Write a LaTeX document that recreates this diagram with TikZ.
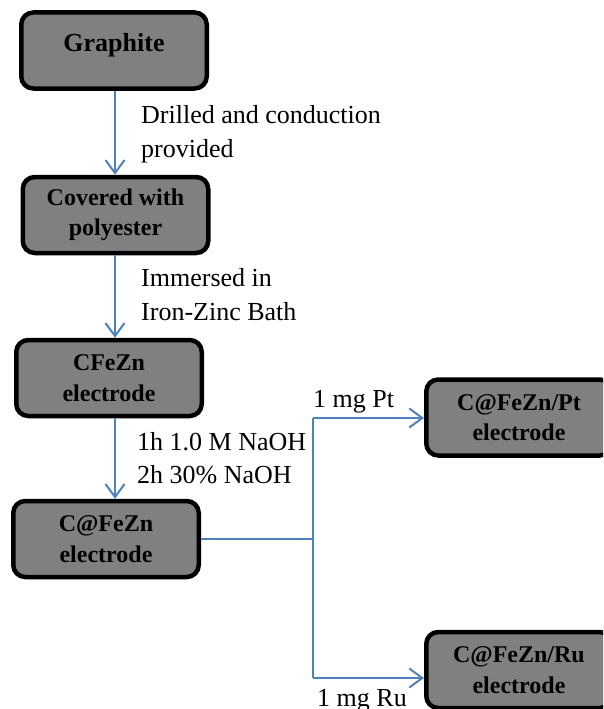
\documentclass[tikz,border=0pt]{standalone}
\usepackage{fontspec}
\setmainfont{LiberationSerif}[Extension=.ttf, UprightFont=*-Regular, BoldFont=*-Bold, ItalicFont=*-Italic, BoldItalicFont=*-BoldItalic]
\usetikzlibrary{arrows.meta}
\definecolor{boxgray}{RGB}{128,128,128}
\definecolor{flowblue}{RGB}{79,129,189}
\tikzset{
  stagebox/.style={draw=black, line width=4.5pt, fill=boxgray, rounded corners=12pt,
    minimum width=185.5pt, minimum height=76pt, inner sep=0pt, align=center,
    font=\rmfamily\bfseries\fontsize{24}{30.5}\selectfont},
  flow/.style={draw=flowblue, line width=2pt},
  flowarrow/.style={flow, -{Straight Barb[length=13pt,width=19pt,line width=2pt]}},
  steplabel/.style={anchor=base west, align=left, inner sep=0pt,
    font=\rmfamily\fontsize{26}{34}\selectfont}
}
\begin{document}
\begin{tikzpicture}[x=1pt, y=-1pt]
\path[use as bounding box, clip] (0,0) rectangle (603,709);

% process stages
\node[stagebox, font=\rmfamily\bfseries\fontsize{26}{30}\selectfont,
      text height=8pt, text depth=6pt] (graphite) at (114,50.5) {Graphite};
\node[stagebox] (covered) at (115.5,215) {Covered with\\polyester};
\node[stagebox] (cfezn) at (109,378) {CFeZn\\electrode};
\node[stagebox] (cafezn) at (106,539) {C@FeZn\\electrode};
\node[stagebox] (ptel) at (519,417.5) {C@FeZn/Pt\\electrode};
\node[stagebox] (ruel) at (519,670) {C@FeZn/Ru\\electrode};

% vertical axis of the main chain and branch points
\coordinate (axis) at (115,0);
\coordinate (jtop) at (313,418);
\coordinate (jbot) at (313,678);

\draw[flowarrow] (graphite.south -| axis) -- (covered.north -| axis);
\draw[flowarrow] (covered.south -| axis) -- (cfezn.north -| axis);
\draw[flowarrow] (cfezn.south -| axis) -- (cafezn.north -| axis);

\draw[flow] (cafezn.east) -- (cafezn.east -| jtop);
\draw[flow] (jtop) -- (jbot);
\draw[flowarrow] (jtop) -- (jtop -| ptel.west);
\draw[flowarrow] (jbot) -- (jbot -| ruel.west);

% step descriptions (base anchor sits on the last line)
\node[steplabel] (l1) at (141,157) {Drilled and conduction\\provided};
\node[steplabel] (l2) at (141,320) {Immersed in\\Iron-Zinc Bath};
\node[steplabel, font=\rmfamily\fontsize{26}{33}\selectfont] (l3) at (137,483) {1h 1.0 M NaOH\\2h 30\% NaOH};
\node[steplabel] (l4) at (313,407) {1 mg Pt};
\node[steplabel] (l5) at (317,706) {1 mg Ru};
\end{tikzpicture}
\end{document}
